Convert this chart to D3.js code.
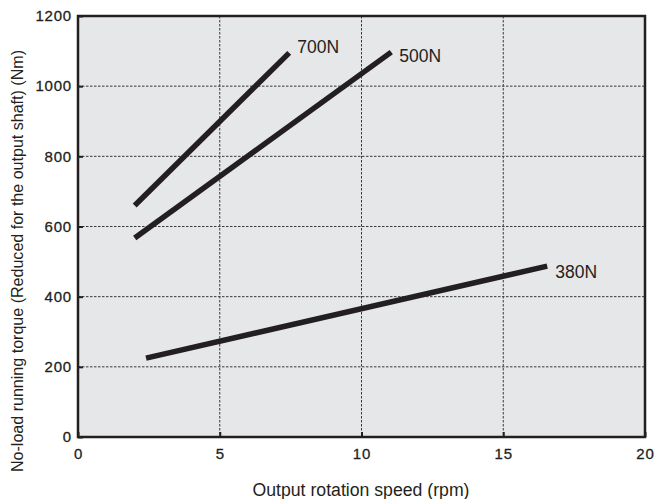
<!DOCTYPE html>
<html>
<head>
<meta charset="utf-8">
<script src="https://cdn.jsdelivr.net/npm/d3@7"></script>
<style>
  body { margin: 0; background: #fff; }
  text { font-family: "Liberation Sans", Arial, sans-serif; fill: #231f20; }
</style>
</head>
<body>
<script>
var xTicks = [0, 5, 10, 15, 20];
var yTicks = [0, 200, 400, 600, 800, 1000, 1200];
var seriesNames = ['700N', '500N', '380N'];
var speed700 = [2.0, 7.45];
var torque700 = [660, 1095];
var speed500 = [2.0, 11.05];
var torque500 = [567, 1097];
var speed380 = [2.4, 16.55];
var torque380 = [225, 487];

var series = [
    { name: seriesNames[0], x: speed700, y: torque700 },
    { name: seriesNames[1], x: speed500, y: torque500 },
    { name: seriesNames[2], x: speed380, y: torque380 }
];
// label nudges below the line end
var labelDy = { '700N': 0, '500N': 10, '380N': 12 };

var width = 657, height = 499;
var margin = { top: 16, right: 12, bottom: 62, left: 78 };
var iw = width - margin.left - margin.right,
    ih = height - margin.top - margin.bottom;

var svg = d3.select('body').append('svg')
    .attr('width', width)
    .attr('height', height);

var g = svg.append('g')
    .attr('transform', 'translate(' + margin.left + ',' + margin.top + ')');

var x = d3.scaleLinear().domain([0, 20]).range([0, iw]);
var y = d3.scaleLinear().domain([0, 1200]).range([ih, 0]);

g.append('rect')
    .attr('width', iw)
    .attr('height', ih)
    .attr('fill', '#e6e7e8');

// grid
g.selectAll('.vgrid')
    .data(xTicks.slice(1, -1))
    .enter().append('line')
    .attr('x1', function(d) { return x(d); })
    .attr('x2', function(d) { return x(d); })
    .attr('y1', 0).attr('y2', ih)
    .attr('stroke', '#3a3a3a').attr('stroke-width', 1)
    .attr('stroke-dasharray', '2.5,1.5');

g.selectAll('.hgrid')
    .data(yTicks.slice(1, -1))
    .enter().append('line')
    .attr('y1', function(d) { return y(d); })
    .attr('y2', function(d) { return y(d); })
    .attr('x1', 0).attr('x2', iw)
    .attr('stroke', '#3a3a3a').attr('stroke-width', 1)
    .attr('stroke-dasharray', '2.5,1.5');

// axes
var xAxis = d3.axisBottom(x).tickValues(xTicks).tickFormat(d3.format('d')).tickSize(-5).tickPadding(11);
var yAxis = d3.axisLeft(y).tickValues(yTicks).tickFormat(d3.format('d')).tickSize(-5).tickPadding(6);

var gx = g.append('g').attr('transform', 'translate(0,' + ih + ')').call(xAxis);
var gy = g.append('g').call(yAxis);

[gx, gy].forEach(function(a) {
    a.select('.domain').remove();
    a.selectAll('line').attr('stroke', '#231f20').attr('stroke-width', 2);
    a.selectAll('text')
        .attr('font-family', null)
        .style('font-size', '15px')
        .style('letter-spacing', '0.8px')
        .attr('stroke', '#231f20')
        .attr('stroke-width', 0.3)
        .attr('fill', '#231f20');
});

g.append('rect')
    .attr('width', iw)
    .attr('height', ih)
    .attr('fill', 'none')
    .attr('stroke', '#231f20')
    .attr('stroke-width', 2.5);

// lines
var line = d3.line()
    .x(function(d) { return x(d[0]); })
    .y(function(d) { return y(d[1]); });

g.selectAll('.series')
    .data(series)
    .enter().append('path')
    .attr('d', function(s) { return line(d3.zip(s.x, s.y)); })
    .attr('fill', 'none')
    .attr('stroke', '#231f20')
    .attr('stroke-width', 5.5);

g.selectAll('.label')
    .data(series)
    .enter().append('text')
    .attr('x', function(s) { return x(s.x[1]) + 8; })
    .attr('y', function(s) { return y(s.y[1]) + labelDy[s.name]; })
    .style('font-size', '17.5px')
    .text(function(s) { return s.name; });

// titles
svg.append('text')
    .attr('x', 361)
    .attr('y', 496)
    .attr('text-anchor', 'middle')
    .attr('textLength', 217)
    .attr('lengthAdjust', 'spacingAndGlyphs')
    .style('font-size', '18px')
    .text('Output rotation speed (rpm)');

svg.append('text')
    .attr('transform', 'translate(23,261) rotate(-90)')
    .attr('text-anchor', 'middle')
    .attr('textLength', 422)
    .attr('lengthAdjust', 'spacingAndGlyphs')
    .style('font-size', '16px')
    .text('No-load running torque (Reduced for the output shaft) (Nm)');
</script>
</body>
</html>
